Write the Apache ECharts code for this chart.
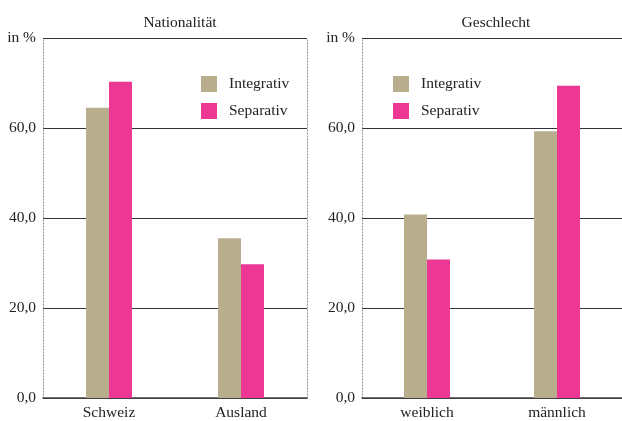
<!DOCTYPE html>
<html lang="de">
<head>
    <meta charset="UTF-8">
    <script src="https://cdn.jsdelivr.net/npm/echarts@6/dist/echarts.min.js"></script>
    <title>Integrativ / Separativ</title>
    <style>
        html, body { margin: 0; padding: 0; background: #fff; }
        #chart { width: 622px; height: 421px; }
    </style>
</head>
<body>
<div id="chart"></div>
<script>
    // data
    var natCategories = ['Schweiz', 'Ausland'];
    var natIntegrativ = [64.5, 35.5];
    var natSeparativ = [70.3, 29.7];

    var sexCategories = ['weiblich', 'männlich'];
    var sexIntegrativ = [40.8, 59.3];
    var sexSeparativ = [30.8, 69.4];

    var yTicks = [0, 20, 40, 60, 80];
    var panelTitles = ['Nationalität', 'Geschlecht'];

    var font = 'Liberation Serif';
    var fs = 15.5;
    var tan = '#b8ae8e';
    var pink = '#ec3894';
    var dotted = { color: '#888', type: [1, 2], width: 1 };

    function yLabel(v) {
        if (v === yTicks[yTicks.length - 1]) return 'in %';
        return v.toFixed(1).replace('.', ',');
    }

    function yAxisFor(gridIndex) {
        return {
            type: 'value', gridIndex: gridIndex,
            min: yTicks[0], max: yTicks[yTicks.length - 1], interval: 20,
            axisLine: { show: true, lineStyle: dotted },
            axisTick: { show: false },
            axisLabel: { formatter: yLabel, color: '#222', fontFamily: font, fontSize: fs, margin: 7 },
            splitLine: { lineStyle: { color: '#333', width: 1 } }
        };
    }

    function xAxisFor(gridIndex, cats) {
        return {
            type: 'category', gridIndex: gridIndex, data: cats,
            axisLine: { show: true, lineStyle: { color: '#444', width: 1.5 } },
            axisTick: { show: false },
            axisLabel: { color: '#222', fontFamily: font, fontSize: fs, margin: 7 }
        };
    }

    function barSeries(name, color, idx, data) {
        return {
            name: name, type: 'bar', xAxisIndex: idx, yAxisIndex: idx,
            data: data, barWidth: 23, barGap: '0%',
            itemStyle: { color: color }
        };
    }

    function legendFor(left) {
        return {
            orient: 'vertical', left: left, top: 71,
            itemWidth: 16, itemHeight: 16, itemGap: 11,
            icon: 'rect',
            textStyle: { fontFamily: font, fontSize: fs, color: '#222', padding: [0, 0, 0, 7] },
            data: ['Integrativ', 'Separativ']
        };
    }

    var chart = echarts.init(document.getElementById('chart'));

    var option = {
        animation: false,
        title: [
            { text: panelTitles[0], left: 175, top: 10, textAlign: 'center',
              textStyle: { fontFamily: font, fontSize: fs, fontWeight: 'normal', color: '#222' } },
            { text: panelTitles[1], left: 491, top: 10, textAlign: 'center',
              textStyle: { fontFamily: font, fontSize: fs, fontWeight: 'normal', color: '#222' } }
        ],
        legend: [legendFor(196), legendFor(388)],
        grid: [
            { left: 43, top: 38, width: 264, height: 361 },
            { left: 362, top: 38, width: 260, height: 361 }
        ],
        xAxis: [xAxisFor(0, natCategories), xAxisFor(1, sexCategories)],
        yAxis: [
            yAxisFor(0),
            yAxisFor(1),
            // dotted right border of the left panel
            {
                type: 'value', gridIndex: 0, position: 'right',
                min: 0, max: 80, interval: 20,
                axisLine: { show: true, lineStyle: dotted },
                axisTick: { show: false }, axisLabel: { show: false }, splitLine: { show: false }
            }
        ],
        series: [
            barSeries('Integrativ', tan, 0, natIntegrativ),
            barSeries('Separativ', pink, 0, natSeparativ),
            barSeries('Integrativ', tan, 1, sexIntegrativ),
            barSeries('Separativ', pink, 1, sexSeparativ)
        ]
    };

    chart.setOption(option);
</script>
</body>
</html>
